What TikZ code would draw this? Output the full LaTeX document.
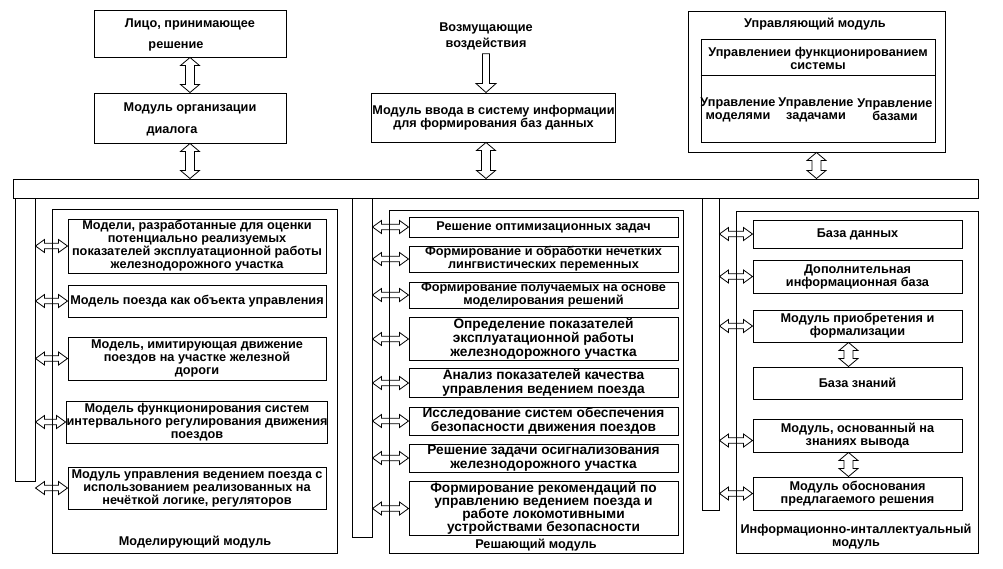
\documentclass[tikz,border=0pt]{standalone}
\usepackage{fontspec}
\setmainfont{Liberation Sans}
\usetikzlibrary{calc}
\newcommand\mytxt{\fontsize{12.7}{13}\selectfont\bfseries}
\newcommand\mybig{\fontsize{13.7}{14}\selectfont\bfseries}
\newcommand\mybigt{\fontsize{13.7}{13.2}\selectfont\bfseries}
\tikzset{
  box/.style={draw, line width=1pt, inner sep=0.5pt, align=center, font=\mytxt},
  frame/.style={draw, line width=1pt, inner sep=0pt},
  lbl/.style={inner sep=0pt, align=center, font=\mytxt},
  dbl/.style n args={3}{draw, line width=0.8pt, line join=miter, to path={
    (\tikztostart) -- ($(\tikztostart)!#1!(\tikztotarget)!#2!90:(\tikztotarget)$)
    -- ($(\tikztostart)!#1!(\tikztotarget)!#3!90:(\tikztotarget)$)
    -- ($(\tikztotarget)!#1!(\tikztostart)!#3!-90:(\tikztostart)$)
    -- ($(\tikztotarget)!#1!(\tikztostart)!#2!-90:(\tikztostart)$)
    -- (\tikztotarget)
    -- ($(\tikztotarget)!#1!(\tikztostart)!#2!90:(\tikztostart)$)
    -- ($(\tikztotarget)!#1!(\tikztostart)!#3!90:(\tikztostart)$)
    -- ($(\tikztostart)!#1!(\tikztotarget)!#3!-90:(\tikztotarget)$)
    -- ($(\tikztostart)!#1!(\tikztotarget)!#2!-90:(\tikztotarget)$)
    -- cycle}},
  sgl/.style n args={3}{draw, line width=0.8pt, line join=miter, to path={
    ($(\tikztostart)!#3!90:(\tikztotarget)$)
    -- ($(\tikztotarget)!#1!(\tikztostart)!#3!-90:(\tikztostart)$)
    -- ($(\tikztotarget)!#1!(\tikztostart)!#2!-90:(\tikztostart)$)
    -- (\tikztotarget)
    -- ($(\tikztotarget)!#1!(\tikztostart)!#2!90:(\tikztostart)$)
    -- ($(\tikztotarget)!#1!(\tikztostart)!#3!90:(\tikztostart)$)
    -- ($(\tikztostart)!#3!-90:(\tikztotarget)$)
    -- cycle}},
  hdbl/.style={dbl={9pt}{6.5pt}{2.8pt}},
  vdbl/.style={dbl={8pt}{9.5pt}{4.5pt}},
  vsgl/.style={sgl={9pt}{10pt}{3.5pt}},
}
\begin{document}
\begin{tikzpicture}[x=1pt,y=-1pt]
\useasboundingbox (0,0) rectangle (1003,568);

% ---- top row
\node[box, minimum width=192pt, minimum height=47pt] (lpr) at (190,33.5)
  {\rule{0pt}{12pt}Лицо, принимающее\\[8pt]решение\rule{28pt}{0pt}};
\node[box, minimum width=192pt, minimum height=50pt] (dlg) at (190,118)
  {\rule{0pt}{12pt}Модуль организации\\[9pt]диалога\rule{36pt}{0pt}};
\node[lbl] (vozm) at (486,36) {Возмущающие\\[3pt]воздействия};
\node[box, minimum width=243pt, minimum height=49pt] (vvod) at (493.5,117.5)
  {Модуль ввода в систему информации\\для формирования баз данных};
\node[frame, minimum width=257pt, minimum height=141pt] (upr) at (816.5,81.5) {};
\node[lbl] (uprt) at (815,24) {Управляющий модуль};
\node[frame, minimum width=234pt, minimum height=103pt] (uin) at (818,90.5) {};
\draw[line width=1pt] ($(uin.north west)+(0,37)$) -- ($(uin.north east)+(0,37)$);
\node[lbl] (ufs) at (818,58) {Управлениеи функционированием\\системы};
\node[lbl] (um1) at (738,110) {Управление\\моделями};
\node[lbl] (um2) at (816,110) {Управление\\задачами};
\node[lbl] (um3) at (895,110) {Управление\\базами};

% ---- bus and strips
\node[frame, minimum width=965pt, minimum height=19pt] (bus) at (495.5,188.5) {};
\node[frame, minimum width=20pt, minimum height=283pt] (sL) at (25,339.5) {};
\node[frame, minimum width=20pt, minimum height=339pt] (sM) at (362,367.5) {};
\node[frame, minimum width=17pt, minimum height=312pt] (sR) at (710.5,354) {};

% ---- modules
\node[frame, minimum width=285pt, minimum height=344pt] (mL) at (194.5,381) {};
\node[frame, minimum width=294pt, minimum height=343pt] (mM) at (536,381.5) {};
\node[frame, minimum width=242pt, minimum height=342pt] (mR) at (857,382) {};

% ---- left column
\node[box, minimum width=258pt, minimum height=54pt] (l1) at (197,246)
  {Модели, разработанные для оценки\\потенциально реализуемых\\показателей эксплуатационной работы\\железнодорожного участка};
\node[box, minimum width=258pt, minimum height=32pt] (l2) at (197,301)
  {Модель поезда как объекта управления};
\node[box, minimum width=258pt, minimum height=43pt] (l3) at (197,358.5)
  {Модель, имитирующая движение\\поездов на участке железной\\дороги};
\node[box, minimum width=258pt, minimum height=42pt] (l4) at (197,422)
  {Модель функционирования систем\\интервального регулирования движения\\поездов};
\node[box, minimum width=258pt, minimum height=42pt] (l5) at (197,488)
  {Модуль управления ведением поезда с\\использованием реализованных на\\нечёткой логике, регуляторов};
\node[lbl] (lblL) at (195,542) {Моделирующий модуль};

% ---- middle column
\node[box, minimum width=269pt, minimum height=20pt] (m1) at (543.5,227)
  {Решение оптимизационных задач};
\node[box, minimum width=269pt, minimum height=26pt] (m2) at (543.5,259)
  {Формирование и обработки нечетких\\лингвистических переменных};
\node[box, minimum width=269pt, minimum height=26pt] (m3) at (543.5,295)
  {Формирование получаемых на основе\\моделирования решений};
\node[box, font=\mybig, minimum width=269pt, minimum height=42pt] (m4) at (543.5,339)
  {Определение показателей\\эксплуатационной работы\\железнодорожного участка};
\node[box, font=\mybig, minimum width=269pt, minimum height=28pt] (m5) at (543.5,383)
  {Анализ показателей качества\\управления ведением поезда};
\node[box, font=\mybig, minimum width=269pt, minimum height=28pt] (m6) at (543.5,421)
  {Исследование систем обеспечения\\безопасности движения поездов};
\node[box, font=\mybig, minimum width=269pt, minimum height=28pt] (m7) at (543.5,458)
  {Решение задачи осигнализования\\железнодорожного участка};
\node[box, font=\mybigt, minimum width=269pt, minimum height=53pt] (m8) at (543.5,508.5)
  {Формирование рекомендаций по\\управлению ведением поезда и\\работе локомотивными\\устройствами безопасности};
\node[lbl] (lblM) at (536,545) {Решающий модуль};

% ---- right column
\node[box, minimum width=209pt, minimum height=28pt] (r1) at (857.5,234) {База данных};
\node[box, minimum width=209pt, minimum height=33pt] (r2) at (857.5,276.5)
  {Дополнительная\\информационная база};
\node[box, minimum width=209pt, minimum height=32pt] (r3) at (857.5,326)
  {Модуль приобретения и\\формализации};
\node[box, minimum width=209pt, minimum height=32pt] (r4) at (857.5,383) {База знаний};
\node[box, minimum width=209pt, minimum height=33pt] (r5) at (857.5,435.5)
  {Модуль, основанный на\\знаниях вывода};
\node[box, minimum width=209pt, minimum height=33pt] (r6) at (857.5,493.5)
  {Модуль обоснования\\предлагаемого решения};
\node[lbl] (lblR) at (856,537) {Информационно-инталлектуальный\\модуль};
\coordinate (r5a) at ([yshift=-5pt]r5.west);

% ---- vertical arrows
\draw[vdbl] (lpr.south) to (dlg.north);
\draw[vdbl] (dlg.south) to (bus.north -| dlg.south);
\draw[vsgl] ([yshift=-4pt]vozm.south) to (vvod.north -| vozm.south);
\draw[vdbl] (vvod.south -| vozm.south) to (bus.north -| vozm.south);
\draw[vdbl] (upr.south) to (bus.north -| upr.south);
\draw[vdbl] ([xshift=-9pt]r3.south) to ([xshift=-9pt]r4.north);
\draw[vdbl] ([xshift=-9pt]r5.south) to ([xshift=-9pt]r6.north);

% ---- horizontal arrows
\foreach \b in {l1,l2,l3,l4,l5} \draw[hdbl] (sL.east |- \b.west) to (\b.west);
\foreach \b in {m1,m2,m3,m4,m5,m6,m7,m8} \draw[hdbl] (sM.east |- \b.west) to (\b.west);
\foreach \b in {r1,r2,r3,r6} \draw[hdbl] (sR.east |- \b.west) to (\b.west);
\draw[hdbl] (sR.east |- r5a) to (r5a);
\end{tikzpicture}
\end{document}
